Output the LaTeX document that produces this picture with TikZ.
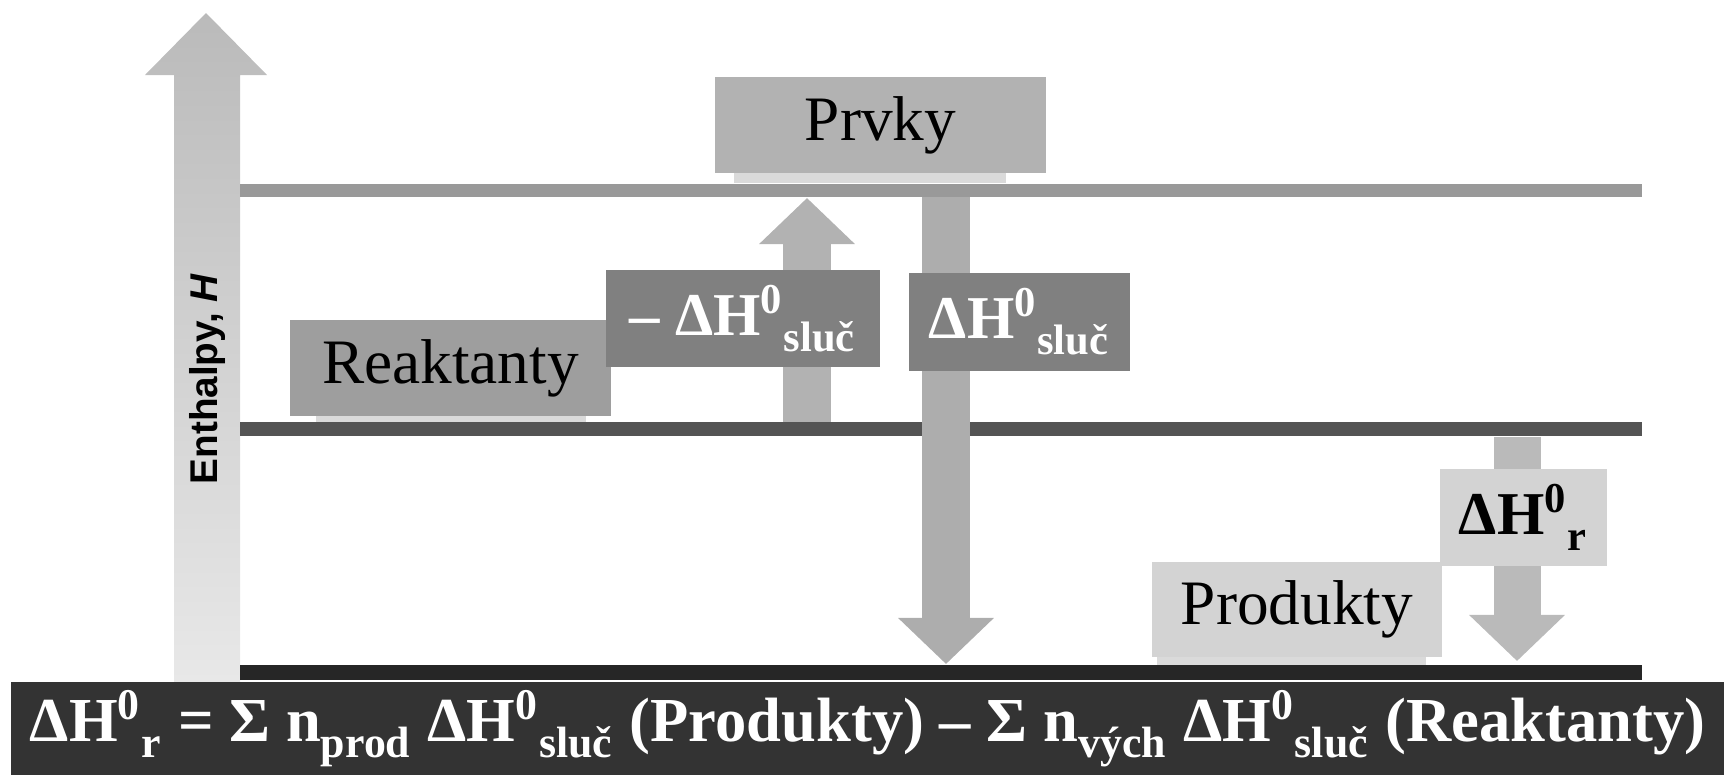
\documentclass[tikz,border=0pt]{standalone}
\usepackage{fontspec}
\setmainfont{Liberation Serif}
\setsansfont{Liberation Sans}
\usetikzlibrary{arrows.meta}

\definecolor{prvkygray}{HTML}{B2B2B2}
\definecolor{reaktgray}{HTML}{9E9E9E}
\definecolor{valgray}{HTML}{808080}
\definecolor{prodgray}{HTML}{D3D3D3}
\definecolor{arrowgray}{HTML}{B2B2B2}
\definecolor{stripgray}{HTML}{DADADA}
\definecolor{formulagray}{HTML}{333333}

\newcommand{\lowsub}[1]{\textsubscript{\raisebox{-0.35ex}{#1}}}
\newcommand{\dHsl}{ΔH\textsuperscript{0}\lowsub{sluč}}

\begin{document}
\begin{tikzpicture}[x=0.01cm,y=-0.01cm,
    level/.style={line width=0.13cm},
    strip/.style={fill=stripgray},
    namebox/.style={inner sep=0pt,font=\fontsize{18}{20}\selectfont},
    valbox/.style={inner sep=0pt,fill=valgray,text=white,font=\fontsize{17.3}{20}\selectfont\bfseries},
    fatarrow/.style={draw=arrowgray,line width=0.47cm,-{Triangle[width=0.93cm,length=0.46cm]}}]
    \useasboundingbox (0,0) rectangle (1724,775);
    % Enthalpy axis
    \shade[top color=black!27,bottom color=black!9]
        (174,682) -- (174,75) -- (145,75) -- (206,13) -- (267,75) -- (240,75) -- (240,682) -- cycle;
    \node[rotate=90,font=\sffamily\bfseries\fontsize{11}{12}\selectfont] (axis) at (207,379) {Enthalpy, \textit{H}};
    % Light strips under the names
    \fill[strip] (734,173) rectangle (1006,183);
    \fill[strip] (316,416) rectangle (586,422);
    \fill[strip] (1157,657) rectangle (1426,665);
    % Enthalpy levels
    \coordinate (topL) at (240,190);
    \coordinate (topR) at (1642,190);
    \coordinate (midL) at (240,429);
    \coordinate (midR) at (1642,429);
    \coordinate (botL) at (240,672);
    \coordinate (botR) at (1642,672);
    \draw[level,draw=black!40] (topL) -- (topR);
    \draw[level,draw=black!67,line width=0.14cm] (midL) -- (midR);
    \draw[level,draw=black!85,line width=0.15cm] (botL) -- (botR);
    % Arrows between the levels
    \coordinate (upfrom) at (807,422);
    \coordinate (upto) at (807,198);
    \coordinate (downfrom) at (946,197);
    \coordinate (downto) at (946,664);
    \coordinate (rfrom) at (1517,437);
    \coordinate (rto) at (1517,661);
    \draw[fatarrow] (upfrom) -- (upto);
    \draw[fatarrow,draw=black!32] (downfrom) -- (downto);
    \draw[fatarrow,draw=black!27] (rfrom) -- (rto);
    % Names of the levels
    \node[namebox,fill=prvkygray,minimum width=3.31cm,minimum height=0.96cm] (prvky) at (880.5,125) {Prvky};
    \node[namebox,fill=reaktgray,minimum width=3.21cm,minimum height=0.96cm] (reakt) at (450.5,368) {Reaktanty};
    \node[namebox,fill=prodgray,minimum width=2.90cm,minimum height=0.95cm] (prod) at (1297,609.5) {Produkty};
    % Values on the arrows
    \node[valbox,minimum width=2.74cm,minimum height=0.97cm] (mdH) at (743,318.5) {– \dHsl};
    \node[valbox,minimum width=2.21cm,minimum height=0.98cm] (dH) at (1019.5,322) {\dHsl};
    \node[valbox,fill=prodgray,text=black,minimum width=1.67cm,minimum height=0.97cm] (dHr) at (1523.5,517.5) {ΔH\textsuperscript{0}\lowsub{r}};
    % Formula
    \node[fill=formulagray,text=white,inner sep=0pt,minimum width=17.13cm,minimum height=0.93cm,
        font=\fontsize{17.8}{20}\selectfont\bfseries] (formula) at (867.5,728.5)
        {ΔH\textsuperscript{0}\lowsub{r} = Σ n\lowsub{prod} \dHsl{} (Produkty) – Σ n\lowsub{vých} \dHsl{} (Reaktanty)};
\end{tikzpicture}
\end{document}
